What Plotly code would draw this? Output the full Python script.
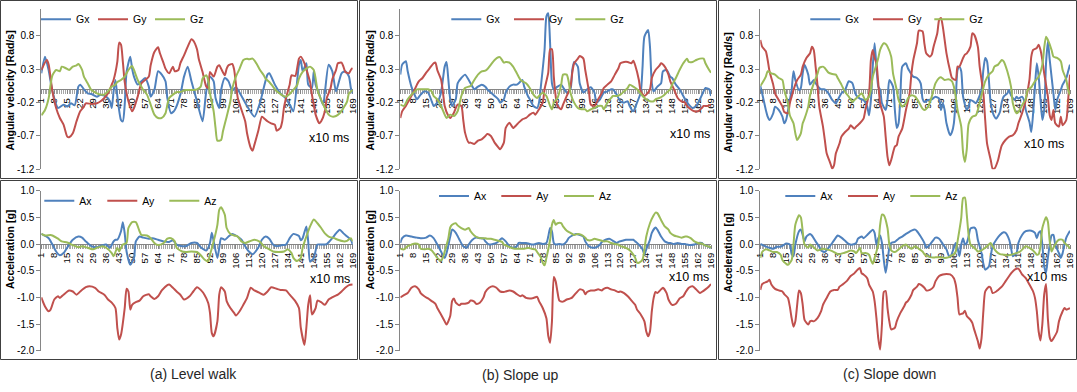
import plotly.graph_objects as go

W, H = 1077, 392
FONT = "Liberation Sans, Arial, sans-serif"
BLUE, RED, GREEN = "#4F81BD", "#C0504D", "#9BBB59"
AXIS_GRAY = "#868686"

# ---------------- tick labels / texts ----------------
CATEGORY_TICKS = list(range(1, 170, 7))
GYRO_TICKS = [-1.2, -0.7, -0.2, 0.3, 0.8]
GYRO_TICK_TEXT = ["-1.2", "-0.7", "-0.2", "0.3", "0.8"]
ACC_TICKS = [-2.0, -1.5, -1.0, -0.5, 0.0, 0.5, 1.0]
ACC_TICK_TEXT = ["-2.0", "-1.5", "-1.0", "-0.5", "0.0", "0.5", "1.0"]
GYRO_NAMES = ["Gx", "Gy", "Gz"]
ACC_NAMES = ["Ax", "Ay", "Az"]
CAPTIONS = ["(a) Level walk", "(b) Slope up", "(c) Slope down"]
GYRO_TITLE = "Angular velocity [Rad/s]"
ACC_TITLE = "Acceleration [g]"
TIME_UNIT = "x10 ms"

# ---------------- data (sample index, value) ----------------
# (a) Level walk - gyroscope
a_gx = [(1,0.24),(3,0.49),(5,0.28),(7,-0.03),(10,-0.28),(13,-0.23),(15,-0.26),(17,-0.21),(19,-0.24),(21,0.04),(22,0.07),(24,0.0),(26,-0.06),(28,-0.07),(31,-0.11),(33,-0.08),(36,-0.11),(38,-0.18),(39,-0.28),(40,-0.03),(41,0.14),(42,-0.1),(44,-0.46),(45,-0.48),(46,-0.23),(47,0.26),(49,0.49),(50,0.31),(51,0.19),(53,0.07),(55,0.12),(57,0.17),(59,0.04),(60,-0.11),(62,-0.01),(64,0.27),(66,0.22),(68,0.12),(69,-0.13),(71,-0.36),(73,-0.31),(76,-0.08),(78,0.19),(80,0.34),(82,0.12),(85,-0.18),(88,-0.48),(90,-0.03),(92,0.19),(94,0.12),(95,-0.13),(97,-0.28),(98,-0.01),(100,0.17),(102,0.12),(104,-0.02),(106,0.03),(109,-0.1),(112,-0.25),(116,-0.41),(119,-0.2),(123,0.22),(124,0.24),(127,0.07),(130,-0.06),(133,-0.14),(135,-0.23),(137,-0.33),(140,0.37),(141,0.44),(142,0.27),(144,0.39),(145,0.07),(147,0.02),(148,0.27),(149,0.07),(151,-0.08),(153,-0.23),(156,0.37),(158,0.27),(160,-0.03),(163,0.24),(165,0.27),(167,0.19),(168,0.02),(169,-0.06)]
a_gy = [(1,0.29),(4,0.44),(5,0.37),(7,-0.03),(9,-0.28),(11,-0.43),(13,-0.53),(15,-0.71),(16,-0.72),(18,-0.66),(20,-0.48),(22,-0.33),(24,-0.26),(25,-0.21),(28,-0.22),(31,-0.21),(33,-0.18),(35,-0.13),(37,-0.06),(39,0.07),(40,0.14),(42,0.41),(43,0.7),(44,0.67),(45,0.41),(46,0.11),(48,-0.18),(50,-0.33),(51,-0.28),(53,-0.11),(55,0.09),(57,0.14),(59,0.19),(60,0.36),(62,0.56),(64,0.63),(65,0.54),(67,0.39),(68,0.31),(70,0.24),(72,0.34),(73,0.27),(75,0.29),(76,0.39),(78,0.51),(80,0.64),(82,0.75),(83,0.73),(85,0.6),(86,0.45),(88,0.26),(89,0.14),(90,0.04),(91,0.02),(92,0.26),(94,0.19),(96,0.34),(97,0.36),(98,0.31),(100,0.21),(101,0.31),(102,0.36),(104,0.38),(105,0.3),(107,-0.13),(111,-0.48),(112,-0.66),(114,-0.88),(115,-0.92),(116,-0.83),(118,-0.63),(120,-0.41),(121,-0.43),(123,-0.48),(125,-0.51),(127,-0.53),(128,-0.62),(130,-0.58),(131,-0.48),(132,-0.26),(134,-0.03),(135,0.07),(136,0.21),(138,0.2),(140,0.46),(141,0.49),(143,0.39),(144,0.3),(146,0.11),(147,-0.08),(148,-0.23),(149,-0.38),(151,-0.51),(152,-0.48),(154,-0.33),(155,-0.13),(157,0.01),(158,0.15),(160,0.29),(161,0.39),(163,0.4),(164,0.34),(165,0.26),(167,0.24),(168,0.29),(169,0.32)]
a_gz = [(1,-0.39),(3,-0.31),(5,-0.13),(6,0.07),(7,0.21),(9,0.29),(11,0.27),(12,0.34),(14,0.32),(16,0.29),(18,0.34),(20,0.36),(21,0.38),(23,0.29),(24,0.19),(26,0.09),(28,-0.01),(31,-0.06),(33,-0.08),(35,-0.08),(37,-0.03),(39,0.04),(41,0.07),(42,0.11),(44,0.14),(46,0.19),(48,0.29),(50,0.35),(51,0.29),(53,0.14),(55,0.04),(56,-0.01),(58,-0.08),(60,-0.23),(62,-0.38),(64,-0.43),(66,-0.43),(68,-0.36),(69,-0.23),(70,-0.13),(72,-0.08),(74,-0.04),(76,-0.04),(78,-0.02),(79,-0.01),(81,-0.01),(83,-0.01),(85,0.0),(87,0.04),(88,0.16),(90,0.21),(91,0.14),(92,-0.06),(94,-0.33),(95,-0.58),(96,-0.77),(98,-0.76),(99,-0.63),(101,-0.41),(103,-0.18),(104,0.01),(106,0.19),(108,0.31),(110,0.44),(112,0.46),(113,0.45),(115,0.46),(117,0.39),(119,0.29),(121,0.21),(122,0.16),(124,0.11),(126,0.04),(128,-0.03),(130,-0.07),(131,-0.09),(133,-0.11),(135,-0.07),(137,-0.01),(139,0.06),(140,0.16),(142,0.26),(144,0.31),(146,0.34),(148,0.29),(149,0.16),(150,-0.01),(152,-0.16),(154,-0.28),(156,-0.38),(158,-0.41),(160,-0.4),(162,-0.36),(164,-0.28),(166,-0.18),(167,-0.06),(169,-0.01)]
# (a) Level walk - accelerometer
a_ax = [(1,0.19),(5,0.11),(7,-0.01),(9,-0.14),(11,-0.21),(13,-0.17),(16,-0.01),(18,0.08),(21,0.14),(23,0.12),(25,0.05),(28,-0.04),(31,-0.06),(34,-0.02),(36,-0.01),(38,-0.07),(40,0.05),(41,0.08),(42,0.08),(44,0.24),(45,0.41),(46,0.2),(47,-0.14),(49,-0.39),(51,-0.26),(52,0.05),(54,0.14),(56,0.12),(59,0.1),(61,0.11),(64,0.08),(67,0.05),(70,0.04),(72,0.07),(74,-0.01),(77,-0.04),(79,-0.04),(82,0.02),(85,0.02),(87,-0.06),(90,-0.12),(92,0.02),(93,0.21),(94,0.05),(96,-0.26),(97,-0.07),(98,0.11),(100,0.08),(102,0.14),(104,0.19),(106,0.16),(109,0.08),(111,-0.04),(113,-0.14),(115,-0.19),(118,-0.07),(120,0.08),(122,0.14),(124,0.1),(126,-0.01),(128,-0.04),(131,-0.02),(133,-0.01),(135,0.11),(137,0.19),(140,0.15),(141,0.07),(142,0.11),(144,0.33),(145,0.05),(146,-0.33),(148,-0.26),(150,-0.01),(152,-0.01),(155,0.0),(158,0.11),(160,0.2),(162,0.27),(164,0.2),(166,0.14),(168,0.08),(169,-0.01)]
a_ay = [(1,-1.0),(3,-1.17),(5,-1.26),(6,-1.23),(8,-1.04),(10,-0.98),(11,-1.01),(13,-0.95),(16,-0.87),(18,-0.89),(20,-0.95),(22,-0.89),(25,-0.81),(27,-0.79),(30,-0.82),(32,-0.89),(35,-0.95),(37,-1.04),(39,-1.1),(41,-1.2),(42,-1.57),(43,-1.79),(44,-1.7),(46,-1.2),(47,-0.84),(48,-0.89),(49,-1.23),(50,-1.14),(52,-1.09),(54,-1.06),(56,-0.98),(59,-0.94),(60,-0.98),(62,-1.03),(64,-0.98),(66,-0.87),(69,-0.77),(70,-0.76),(72,-0.82),(74,-0.89),(76,-0.95),(78,-1.04),(81,-0.98),(83,-0.89),(85,-0.81),(87,-0.86),(89,-0.95),(91,-1.1),(92,-1.29),(93,-1.67),(94,-1.73),(96,-1.45),(97,-0.95),(98,-0.81),(100,-0.89),(101,-1.07),(103,-1.2),(105,-1.29),(106,-1.34),(108,-1.26),(110,-1.14),(112,-1.01),(114,-0.82),(116,-0.87),(119,-0.92),(121,-0.95),(123,-0.89),(125,-0.81),(128,-0.84),(130,-0.86),(133,-0.87),(135,-0.95),(138,-1.07),(140,-1.2),(141,-1.57),(143,-1.89),(144,-1.57),(145,-1.14),(146,-0.96),(147,-1.32),(149,-1.2),(150,-1.06),(152,-1.09),(154,-1.14),(156,-1.04),(159,-0.98),(161,-0.95),(163,-0.89),(165,-0.82),(167,-0.77),(169,-0.76)]
a_az = [(1,0.19),(3,0.16),(6,0.17),(7,0.16),(10,0.1),(12,0.05),(15,0.03),(18,-0.02),(21,-0.06),(23,-0.04),(26,-0.07),(29,-0.1),(31,-0.07),(34,-0.04),(36,-0.07),(39,-0.17),(40,-0.23),(42,-0.07),(43,-0.14),(44,-0.07),(45,-0.01),(47,0.02),(48,0.3),(50,0.41),(52,0.41),(54,0.24),(55,0.17),(58,0.16),(60,0.11),(62,0.02),(64,-0.02),(67,0.02),(69,0.1),(71,0.11),(73,0.05),(74,-0.07),(77,-0.14),(79,-0.15),(82,-0.14),(85,-0.15),(87,-0.21),(89,-0.29),(91,-0.32),(92,-0.2),(94,0.05),(96,0.36),(97,0.64),(98,0.69),(100,0.55),(101,0.3),(103,0.19),(105,0.16),(107,0.14),(109,0.05),(111,0.02),(114,0.06),(116,0.08),(119,0.04),(121,-0.04),(124,-0.1),(126,-0.14),(129,-0.15),(132,-0.14),(134,-0.1),(136,-0.17),(137,-0.26),(139,-0.32),(141,-0.26),(142,-0.07),(144,0.14),(146,0.33),(148,0.46),(150,0.39),(152,0.3),(154,0.2),(156,0.14),(159,0.11),(161,0.08),(164,0.05),(166,0.06),(168,0.11),(169,0.05)]

# (b) Slope up - gyroscope
b_gx = [(1,0.22),(2,0.37),(4,0.42),(5,0.27),(7,0.04),(9,-0.1),(10,-0.15),(12,-0.08),(14,-0.03),(16,-0.05),(18,-0.18),(19,-0.25),(21,-0.2),(23,-0.05),(25,0.34),(26,0.41),(27,0.14),(28,-0.15),(29,-0.25),(31,-0.15),(32,0.09),(34,0.17),(36,0.22),(38,0.14),(40,0.04),(41,0.0),(43,0.04),(45,0.07),(47,0.04),(48,0.0),(50,-0.05),(52,-0.1),(54,-0.15),(55,-0.2),(57,-0.15),(58,-0.05),(60,0.04),(62,0.07),(64,0.07),(65,0.09),(67,0.14),(68,0.04),(70,-0.1),(71,-0.15),(73,-0.25),(75,-0.28),(76,-0.2),(77,0.04),(79,0.59),(80,1.09),(81,1.14),(82,0.69),(83,0.09),(84,0.0),(86,0.04),(88,0.07),(89,0.03),(91,-0.05),(93,0.0),(94,0.29),(95,0.41),(97,0.34),(98,0.09),(100,-0.05),(102,0.0),(104,0.03),(106,-0.05),(107,-0.2),(109,-0.15),(111,-0.05),(113,-0.03),(115,0.0),(116,0.0),(118,-0.08),(120,-0.18),(122,-0.2),(124,-0.18),(125,-0.25),(127,-0.33),(129,-0.2),(131,-0.05),(132,0.34),(133,0.79),(135,0.89),(136,0.64),(137,0.09),(138,-0.03),(140,0.04),(142,0.09),(143,0.27),(145,0.29),(147,0.19),(148,0.17),(150,0.07),(152,0.0),(154,-0.1),(155,-0.15),(157,-0.23),(159,-0.28),(161,-0.25),(163,-0.15),(165,-0.03),(166,0.02),(168,0.0),(169,-0.1)]
b_gy = [(1,-0.43),(2,-0.33),(4,-0.25),(6,-0.15),(8,-0.05),(10,0.07),(11,0.12),(13,0.17),(15,0.25),(17,0.32),(19,0.39),(20,0.4),(21,0.29),(23,0.15),(24,-0.03),(25,-0.25),(27,-0.4),(28,-0.43),(30,-0.35),(32,-0.23),(34,-0.25),(35,-0.45),(36,-0.65),(38,-0.8),(39,-0.8),(41,-0.82),(43,-0.77),(45,-0.75),(47,-0.7),(48,-0.67),(50,-0.7),(52,-0.8),(54,-0.87),(55,-0.9),(57,-0.8),(58,-0.58),(60,-0.5),(62,-0.58),(64,-0.53),(65,-0.5),(67,-0.45),(69,-0.43),(71,-0.38),(73,-0.35),(74,-0.38),(76,-0.3),(78,-0.2),(79,0.0),(81,0.25),(82,0.6),(83,0.6),(84,0.19),(85,-0.1),(86,-0.25),(88,-0.3),(89,-0.23),(91,-0.1),(93,0.04),(94,0.25),(95,0.39),(97,0.46),(98,0.5),(100,0.46),(101,0.29),(103,-0.03),(104,-0.23),(106,-0.25),(108,-0.15),(110,-0.05),(111,0.02),(113,0.07),(115,0.12),(117,0.22),(119,0.32),(120,0.39),(122,0.41),(124,0.41),(126,0.39),(127,0.43),(128,0.36),(130,0.14),(131,-0.03),(133,-0.1),(134,-0.08),(136,0.0),(137,0.17),(139,0.29),(141,0.35),(142,0.39),(144,0.34),(146,0.22),(147,0.12),(149,0.0),(151,-0.13),(153,-0.18),(155,-0.2),(156,-0.25),(158,-0.3),(160,-0.33),(162,-0.33),(164,-0.28),(165,-0.25),(167,-0.25),(169,-0.23)]
b_gz = [(1,-0.23),(3,-0.25),(5,-0.15),(7,-0.08),(9,-0.03),(10,0.0),(13,0.0),(16,0.0),(18,-0.03),(19,-0.1),(21,-0.15),(23,-0.25),(25,-0.38),(26,-0.43),(28,-0.38),(30,-0.4),(32,-0.33),(34,-0.1),(36,0.02),(38,0.04),(39,0.05),(41,0.14),(43,0.22),(45,0.27),(47,0.28),(48,0.3),(50,0.37),(52,0.44),(54,0.48),(55,0.48),(57,0.4),(58,0.41),(60,0.4),(62,0.34),(64,0.24),(66,0.14),(67,0.12),(69,0.09),(71,0.02),(73,-0.08),(75,-0.13),(76,-0.1),(78,-0.05),(80,-0.1),(82,-0.25),(83,-0.3),(84,-0.2),(86,-0.13),(88,0.07),(89,0.22),(91,0.22),(92,0.12),(93,-0.05),(95,-0.2),(97,-0.28),(99,-0.3),(101,-0.3),(102,-0.33),(104,-0.3),(106,-0.28),(108,-0.25),(110,-0.25),(111,-0.3),(113,-0.2),(115,-0.13),(116,-0.1),(118,-0.1),(120,-0.08),(122,-0.03),(124,0.02),(125,0.07),(127,0.04),(129,0.0),(130,-0.03),(132,-0.1),(134,-0.15),(136,-0.18),(138,-0.18),(139,-0.15),(141,-0.13),(143,-0.1),(145,-0.05),(147,0.0),(148,0.07),(150,0.17),(152,0.29),(154,0.39),(156,0.46),(157,0.41),(159,0.41),(161,0.44),(163,0.46),(165,0.46),(166,0.39),(168,0.29),(169,0.25)]
# (b) Slope up - accelerometer
b_ax = [(1,0.02),(2,0.11),(4,0.16),(7,0.14),(10,0.12),(12,0.11),(15,0.12),(17,0.16),(19,0.11),(21,-0.01),(23,-0.14),(25,-0.26),(26,-0.17),(28,0.14),(29,0.27),(31,0.21),(33,0.08),(35,-0.04),(37,-0.07),(38,-0.01),(40,0.08),(42,0.12),(44,0.11),(46,0.1),(47,0.05),(49,-0.01),(51,0.0),(53,0.02),(55,0.08),(56,0.11),(58,0.05),(60,-0.04),(62,-0.07),(64,-0.04),(65,0.02),(67,0.02),(69,0.02),(71,0.0),(73,-0.01),(74,0.0),(76,0.02),(78,0.0),(80,0.02),(81,0.14),(82,0.3),(83,0.24),(84,0.02),(85,-0.01),(87,0.0),(89,-0.01),(91,0.05),(92,0.11),(94,0.16),(96,0.19),(98,0.17),(100,0.14),(101,0.05),(103,-0.04),(105,-0.07),(107,-0.06),(109,-0.01),(110,0.04),(112,0.08),(114,0.1),(116,0.06),(118,0.02),(119,0.04),(121,0.06),(123,0.08),(125,0.08),(127,0.08),(128,0.05),(130,-0.01),(132,-0.1),(133,-0.2),(134,-0.1),(136,0.08),(137,0.21),(139,0.31),(140,0.27),(142,0.14),(144,0.05),(146,0.02),(147,0.02),(149,0.0),(151,0.02),(153,0.0),(155,0.0),(156,-0.01),(158,-0.02),(160,-0.01),(162,0.02),(164,0.02),(165,-0.01),(167,-0.04),(169,-0.07)]
b_ay = [(1,-1.0),(3,-0.96),(5,-0.92),(7,-0.82),(9,-0.79),(11,-0.85),(12,-0.92),(14,-0.98),(16,-1.02),(18,-1.07),(20,-1.12),(21,-1.2),(23,-1.32),(25,-1.45),(26,-1.51),(28,-1.35),(29,-1.07),(30,-1.02),(31,-1.1),(33,-1.15),(34,-1.12),(36,-1.12),(38,-1.1),(39,-1.06),(41,-1.08),(42,-1.12),(44,-1.1),(46,-1.0),(47,-0.9),(49,-0.82),(51,-0.79),(53,-0.82),(55,-0.89),(57,-0.9),(58,-0.89),(60,-0.87),(62,-0.89),(64,-0.94),(66,-0.98),(67,-0.96),(69,-1.01),(71,-1.02),(73,-1.01),(75,-0.99),(76,-1.07),(78,-1.2),(80,-1.39),(81,-1.72),(82,-1.85),(83,-1.45),(84,-0.62),(85,-0.7),(86,-0.9),(87,-1.06),(89,-1.08),(91,-1.04),(93,-1.02),(94,-1.0),(96,-0.92),(98,-0.85),(100,-0.87),(101,-0.94),(102,-0.9),(104,-0.87),(106,-0.87),(108,-0.85),(110,-0.87),(111,-0.84),(113,-0.82),(115,-0.85),(117,-0.87),(119,-0.9),(120,-0.89),(122,-0.92),(124,-0.98),(126,-1.06),(128,-1.14),(129,-1.23),(131,-1.32),(133,-1.45),(134,-1.64),(135,-1.73),(136,-1.64),(137,-1.26),(138,-1.01),(139,-0.9),(140,-0.92),(142,-0.85),(143,-0.82),(145,-0.92),(146,-1.04),(148,-1.14),(150,-1.12),(152,-1.02),(154,-0.98),(155,-0.92),(157,-0.82),(159,-0.79),(161,-0.85),(163,-0.92),(164,-0.9),(166,-0.85),(168,-0.79),(169,-0.75)]
b_az = [(1,-0.09),(3,-0.1),(5,-0.04),(7,-0.01),(9,0.01),(11,-0.01),(12,-0.09),(14,-0.1),(16,-0.09),(18,-0.12),(20,-0.21),(21,-0.26),(23,-0.31),(24,-0.26),(25,-0.14),(27,0.11),(28,0.31),(29,0.36),(31,0.39),(32,0.35),(34,0.3),(36,0.27),(38,0.3),(39,0.24),(41,0.16),(43,0.12),(45,0.11),(47,0.11),(48,0.1),(50,0.1),(52,0.08),(54,0.06),(56,0.04),(57,-0.01),(59,-0.04),(61,-0.07),(63,-0.09),(65,-0.09),(66,-0.09),(68,-0.09),(70,-0.07),(72,-0.09),(74,-0.1),(75,-0.15),(77,-0.25),(78,-0.35),(79,-0.4),(80,-0.26),(82,0.08),(83,0.36),(84,0.45),(85,0.36),(86,0.39),(88,0.39),(89,0.33),(91,0.25),(93,0.21),(95,0.17),(97,0.19),(99,0.17),(101,0.12),(102,0.08),(104,0.07),(106,0.1),(108,0.08),(110,0.06),(111,0.05),(113,0.05),(115,0.02),(117,0.0),(119,-0.01),(120,-0.04),(122,-0.06),(124,-0.09),(126,-0.15),(128,-0.26),(129,-0.35),(130,-0.35),(132,-0.29),(133,-0.1),(134,0.14),(136,0.39),(138,0.54),(139,0.59),(140,0.58),(142,0.45),(144,0.33),(146,0.27),(147,0.21),(149,0.16),(151,0.14),(153,0.12),(155,0.14),(156,0.14),(158,0.11),(160,0.05),(162,0.02),(164,0.01),(165,-0.01),(167,-0.04),(169,-0.06)]

# (c) Slope down - gyroscope
c_gx = [(1,0.05),(2,-0.06),(4,-0.31),(5,-0.41),(6,-0.46),(8,-0.36),(9,-0.26),(11,-0.31),(13,-0.41),(14,-0.51),(15,-0.46),(17,-0.16),(18,-0.01),(19,0.27),(20,0.14),(22,-0.01),(23,0.02),(24,0.24),(25,0.37),(27,0.22),(28,0.07),(30,0.14),(31,0.09),(33,0.02),(34,0.0),(36,0.0),(38,-0.06),(40,-0.16),(42,-0.21),(43,-0.16),(45,-0.06),(47,-0.01),(49,0.12),(51,0.09),(52,-0.01),(53,-0.09),(55,-0.14),(57,-0.16),(59,-0.26),(60,-0.39),(61,-0.16),(62,0.34),(63,0.69),(64,0.34),(65,0.04),(66,-0.01),(67,-0.21),(69,-0.31),(70,-0.16),(71,0.14),(73,0.04),(74,-0.31),(75,-0.58),(76,-0.51),(77,-0.11),(78,0.34),(80,0.39),(81,0.32),(82,0.27),(84,0.19),(86,0.17),(88,0.09),(89,-0.14),(90,-0.19),(92,-0.16),(94,-0.15),(96,-0.11),(98,-0.14),(99,-0.31),(100,-0.21),(101,-0.31),(102,-0.51),(104,-0.69),(105,-0.64),(106,-0.51),(107,-0.16),(108,0.29),(109,0.34),(110,0.27),(111,-0.11),(113,-0.31),(114,-0.26),(115,-0.16),(117,-0.19),(118,-0.21),(119,-0.16),(121,-0.01),(122,0.29),(123,0.47),(124,0.42),(125,0.14),(126,-0.21),(128,-0.41),(129,-0.44),(131,-0.34),(132,-0.19),(133,-0.11),(135,-0.06),(136,-0.01),(137,-0.09),(139,-0.16),(140,-0.11),(141,-0.14),(143,-0.11),(144,-0.16),(145,-0.31),(147,-0.49),(148,-0.64),(149,-0.36),(150,0.04),(151,0.39),(152,0.19),(153,-0.16),(154,-0.46),(155,-0.31),(156,0.39),(157,0.72),(158,0.44),(160,-0.06),(161,-0.31),(162,-0.16),(164,-0.01),(165,0.07),(167,0.17),(168,0.27),(169,0.37)]
c_gy = [(1,0.74),(2,0.64),(4,0.57),(5,0.44),(6,0.27),(8,0.07),(9,-0.06),(11,-0.16),(13,-0.26),(14,-0.34),(16,-0.36),(17,-0.21),(18,-0.11),(19,-0.01),(21,0.14),(23,0.22),(24,0.34),(26,0.47),(28,0.54),(29,0.64),(30,0.59),(31,0.34),(32,0.07),(33,-0.26),(35,-0.56),(36,-0.76),(37,-0.96),(39,-1.11),(40,-1.19),(41,-1.14),(42,-0.96),(44,-0.81),(45,-0.71),(47,-0.64),(49,-0.59),(50,-0.54),(52,-0.59),(53,-0.56),(55,-0.51),(57,-0.44),(58,-0.31),(60,-0.06),(61,0.44),(62,0.59),(63,0.47),(64,0.39),(65,0.09),(66,-0.21),(68,-0.41),(69,-0.71),(70,-1.01),(71,-1.14),(72,-1.06),(74,-0.86),(75,-0.84),(76,-0.71),(78,-0.59),(79,-0.46),(80,-0.31),(82,-0.06),(83,0.24),(84,0.44),(86,0.69),(87,0.88),(89,0.87),(90,0.69),(91,0.54),(93,0.49),(94,0.52),(95,0.64),(97,0.84),(98,1.04),(99,1.07),(100,0.94),(101,0.74),(102,0.54),(104,0.27),(105,0.17),(107,0.14),(108,0.34),(109,0.34),(111,0.47),(112,0.52),(113,0.54),(115,0.64),(116,0.84),(117,0.82),(119,0.64),(120,0.34),(122,-0.06),(123,-0.46),(124,-0.81),(126,-1.06),(127,-1.19),(128,-1.19),(130,-1.06),(131,-0.94),(132,-0.84),(134,-0.76),(136,-0.71),(138,-0.69),(140,-0.61),(141,-0.51),(143,-0.36),(145,-0.16),(147,0.14),(148,0.49),(149,0.59),(151,0.62),(152,0.67),(153,0.59),(154,0.44),(155,0.24),(157,-0.11),(158,-0.39),(159,-0.46),(160,-0.31),(161,-0.51),(163,-0.56),(164,-0.41),(165,-0.54),(167,-0.46),(168,-0.16),(169,0.22)]
c_gz = [(1,0.05),(2,0.09),(4,0.19),(5,0.27),(7,0.24),(9,0.22),(11,0.17),(13,0.14),(14,-0.01),(16,-0.21),(17,-0.39),(19,-0.51),(20,-0.66),(21,-0.76),(23,-0.66),(24,-0.51),(25,-0.44),(27,-0.26),(28,-0.09),(30,0.09),(32,0.23),(33,0.32),(35,0.34),(36,0.32),(38,0.25),(40,0.23),(42,0.22),(43,0.17),(45,0.07),(47,-0.04),(49,-0.11),(51,-0.19),(52,-0.16),(54,-0.11),(56,-0.06),(57,-0.11),(58,-0.16),(60,-0.11),(61,-0.01),(62,0.19),(64,0.37),(65,0.47),(66,0.59),(68,0.69),(69,0.68),(70,0.64),(72,0.49),(73,0.24),(75,-0.01),(76,-0.16),(78,-0.26),(80,-0.21),(81,-0.14),(83,-0.09),(85,-0.11),(87,-0.19),(89,-0.29),(90,-0.31),(92,-0.26),(94,-0.11),(96,0.09),(98,0.17),(99,0.18),(101,0.14),(103,0.15),(105,0.12),(106,0.04),(107,-0.11),(108,-0.31),(110,-0.56),(111,-0.95),(112,-1.09),(113,-0.9),(114,-0.52),(116,-0.41),(118,-0.39),(119,-0.31),(121,-0.09),(123,0.12),(125,0.22),(127,0.27),(128,0.34),(130,0.37),(132,0.44),(133,0.42),(135,0.27),(137,0.04),(138,-0.21),(140,-0.36),(141,-0.34),(143,-0.24),(145,-0.14),(146,-0.01),(148,0.03),(150,0.12),(152,0.19),(154,0.37),(155,0.62),(156,0.79),(157,0.74),(159,0.59),(160,0.49),(162,0.47),(164,0.42),(165,0.29),(167,0.14),(168,-0.01),(169,-0.09)]
# (c) Slope down - accelerometer
c_ax = [(1,0.0),(3,-0.03),(5,-0.06),(6,-0.07),(8,-0.09),(10,-0.05),(12,-0.05),(14,-0.01),(15,0.01),(17,-0.01),(18,-0.19),(19,-0.23),(20,-0.01),(22,0.24),(23,0.27),(24,0.17),(25,0.05),(26,0.14),(28,0.19),(29,0.16),(31,0.05),(33,-0.05),(34,-0.12),(36,-0.15),(38,-0.07),(40,0.02),(42,0.12),(43,0.16),(45,0.12),(47,0.06),(49,0.0),(51,-0.01),(53,0.02),(54,0.1),(56,0.14),(57,0.11),(59,0.17),(61,0.24),(62,0.27),(63,0.21),(64,-0.01),(65,0.11),(66,0.16),(67,0.02),(68,-0.3),(69,-0.54),(70,-0.32),(71,-0.07),(72,0.02),(74,0.04),(76,0.1),(78,0.14),(80,0.19),(81,0.21),(83,0.25),(85,0.27),(86,0.24),(88,0.14),(90,0.02),(91,-0.07),(93,-0.01),(95,0.08),(96,0.12),(98,0.1),(100,0.0),(102,-0.1),(103,-0.2),(104,-0.25),(106,-0.07),(107,0.02),(108,-0.07),(109,-0.23),(110,-0.01),(111,0.11),(112,-0.01),(113,0.02),(114,0.14),(115,0.29),(117,0.31),(118,0.27),(119,0.08),(121,-0.17),(122,-0.37),(123,-0.48),(125,-0.42),(126,-0.23),(127,-0.04),(129,0.08),(131,0.17),(133,0.22),(134,0.21),(136,0.08),(137,-0.07),(138,-0.23),(140,-0.17),(141,0.02),(143,0.17),(145,0.24),(146,0.25),(148,0.25),(150,0.21),(151,0.11),(152,0.21),(153,0.24),(154,-0.01),(155,-0.42),(156,-0.54),(157,-0.26),(158,-0.01),(159,0.16),(160,0.17),(161,-0.01),(163,-0.17),(164,-0.26),(165,-0.17),(166,-0.01),(167,0.12),(169,0.25)]
c_ay = [(1,-0.86),(2,-0.75),(3,-0.73),(5,-0.7),(6,-0.67),(7,-0.76),(9,-0.84),(11,-0.87),(13,-0.89),(14,-0.94),(16,-1.01),(17,-1.17),(18,-1.39),(19,-1.55),(20,-1.45),(21,-1.14),(22,-0.87),(23,-0.92),(24,-1.14),(25,-1.42),(27,-1.51),(28,-1.45),(29,-1.44),(30,-1.45),(32,-1.39),(34,-1.26),(35,-1.14),(37,-1.01),(39,-0.89),(41,-0.86),(43,-0.86),(44,-0.8),(46,-0.75),(48,-0.69),(50,-0.6),(52,-0.55),(53,-0.51),(55,-0.45),(56,-0.55),(57,-0.57),(59,-0.64),(60,-0.76),(62,-0.89),(63,-1.07),(64,-1.39),(65,-1.77),(66,-1.98),(67,-1.5),(68,-0.9),(69,-0.88),(70,-1.2),(71,-1.45),(72,-1.6),(74,-1.57),(75,-1.45),(77,-1.29),(79,-1.17),(80,-1.1),(81,-1.07),(83,-0.95),(84,-0.86),(86,-0.8),(87,-0.75),(88,-0.76),(90,-0.82),(91,-0.87),(93,-0.86),(95,-0.8),(96,-0.7),(98,-0.6),(100,-0.57),(102,-0.56),(104,-0.57),(106,-0.64),(107,-0.76),(108,-1.01),(109,-1.32),(110,-1.31),(111,-1.3),(112,-1.25),(113,-1.35),(115,-1.42),(116,-1.48),(117,-1.6),(119,-1.82),(120,-1.96),(121,-1.77),(122,-1.26),(123,-0.89),(125,-0.8),(126,-0.82),(127,-0.92),(129,-0.89),(130,-0.86),(132,-0.8),(134,-0.7),(136,-0.6),(137,-0.55),(139,-0.48),(141,-0.46),(142,-0.51),(143,-0.57),(145,-0.64),(147,-0.76),(149,-0.89),(150,-1.01),(151,-1.26),(152,-1.64),(153,-1.81),(154,-1.5),(155,-0.95),(156,-0.75),(157,-1.4),(158,-1.75),(159,-1.82),(160,-1.77),(162,-1.64),(163,-1.45),(165,-1.26),(166,-1.2),(167,-1.23),(169,-1.2)]
c_az = [(1,-0.26),(2,-0.15),(4,-0.1),(6,-0.12),(8,-0.15),(10,-0.15),(12,-0.2),(13,-0.3),(15,-0.37),(16,-0.39),(18,-0.3),(19,-0.01),(20,0.36),(22,0.54),(23,0.5),(24,0.24),(25,-0.01),(27,-0.07),(28,-0.01),(30,-0.06),(32,-0.12),(34,-0.1),(35,-0.09),(37,-0.1),(39,-0.12),(41,-0.15),(43,-0.19),(44,-0.19),(46,-0.17),(48,-0.15),(50,-0.12),(52,-0.14),(53,-0.17),(55,-0.07),(56,-0.17),(58,-0.17),(60,-0.2),(61,-0.3),(62,-0.37),(63,-0.26),(65,-0.01),(66,0.36),(67,0.55),(68,0.54),(70,0.3),(71,-0.01),(72,-0.12),(74,-0.15),(76,-0.1),(78,-0.04),(80,-0.01),(81,-0.04),(83,-0.09),(85,-0.04),(87,-0.09),(89,-0.14),(90,-0.19),(92,-0.23),(94,-0.25),(96,-0.25),(98,-0.25),(99,-0.25),(101,-0.26),(103,-0.25),(105,-0.21),(106,-0.19),(107,-0.14),(108,0.05),(110,0.49),(111,0.86),(112,0.87),(113,0.55),(114,0.17),(115,-0.01),(117,-0.07),(118,-0.1),(119,-0.14),(121,-0.12),(123,-0.07),(125,-0.01),(126,0.02),(127,-0.04),(129,-0.14),(131,-0.19),(133,-0.2),(135,-0.21),(137,-0.2),(138,-0.19),(140,-0.17),(142,-0.14),(144,-0.07),(145,-0.04),(147,-0.07),(149,-0.12),(151,-0.2),(152,-0.19),(153,-0.04),(154,0.3),(156,0.5),(157,0.42),(158,0.05),(159,-0.14),(160,-0.07),(162,0.05),(163,0.08),(165,0.08),(166,0.02),(168,-0.04),(169,-0.09)]

# ---------------- layout (pixels) ----------------
COL_PLOT_X = [(41.3, 352.7), (400.3, 711.0), (760.3, 1070.0)]
ROW_PLOT_Y = [(9.3, 169.3), (190.7, 350.7)]          # top, bottom (px from top)
ROW_RANGE = [(-1.2, 1.2), (-2.0, 1.0)]
FRAMES_X = [(0.5, 357.5), (359.5, 716.5), (718.5, 1076.5)]
FRAMES_Y = [(0.5, 178.5), (180.5, 359.5)]
LEGEND_TEXT_X = [[(76, 133, 190), (79.3, 142.3, 204.3)],
                 [(486.3, 549, 610.3), (474, 536.3, 599)],
                 [(845.3, 908, 969.3), (820.3, 883, 945.3)]]
LEGEND_Y = [[19.3, 200.7], [19.3, 196], [19.3, 196]]
LEGEND_DX = 40     # plotly legend: text starts 40 px right of the legend's left edge
TITLE_POS = [[(9.5, 91), (10, 250)], [(369.5, 91), (369.5, 250)], [(727.5, 93), (727.5, 253)]]
UNIT_POS = [[(351, 138), (352, 279)], [(712, 134), (711, 277)], [(1066, 144), (1069, 277)]]
CAPTION_POS = [(193, 374), (519.7, 374.5), (889.7, 374)]

panels = [
    [(a_gx, a_gy, a_gz), (a_ax, a_ay, a_az)],
    [(b_gx, b_gy, b_gz), (b_ax, b_ay, b_az)],
    [(c_gx, c_gy, c_gz), (c_ax, c_ay, c_az)],
]
COLORS = [BLUE, RED, GREEN]

def px_x(v):
    return v / W

def px_y(v):
    return 1 - v / H

fig = go.Figure()
layout = dict(
    width=W, height=H, margin=dict(l=0, r=0, t=0, b=0, pad=0, autoexpand=False),
    paper_bgcolor="white", plot_bgcolor="rgba(0,0,0,0)",
    font=dict(family=FONT, color="#000000"), showlegend=True,
    shapes=[], annotations=[],
)

n = 0
legend_n = 0
for col in range(3):
    for row in range(2):
        n += 1
        xa = "x" if n == 1 else f"x{n}"
        ya = "y" if n == 1 else f"y{n}"
        xkey = "xaxis" if n == 1 else f"xaxis{n}"
        ykey = "yaxis" if n == 1 else f"yaxis{n}"
        ymin, ymax = ROW_RANGE[row]
        y0px, y1px = ROW_PLOT_Y[row]
        dom_y = [px_y(y1px), px_y(y0px)]
        zero_pos = dom_y[0] + (0 - ymin) / (ymax - ymin) * (dom_y[1] - dom_y[0])
        layout[xkey] = dict(
            domain=[px_x(COL_PLOT_X[col][0]), px_x(COL_PLOT_X[col][1])],
            range=[1, 169], anchor="free", position=zero_pos,
            showline=True, linecolor=AXIS_GRAY, linewidth=1,
            tickmode="array", tickvals=CATEGORY_TICKS,
            ticktext=[str(t) for t in CATEGORY_TICKS],
            ticks="outside", ticklen=4, tickcolor=AXIS_GRAY, tickwidth=1,
            tickangle=-90, tickfont=dict(size=9.5, family=FONT, color="#000"),
            minor=dict(dtick=1, tick0=1, ticks="outside", ticklen=4,
                       tickcolor="#A6A6A6", tickwidth=1, showgrid=False),
            showgrid=False, zeroline=False, layer="below traces", fixedrange=True,
            automargin=False,
        )
        tv = GYRO_TICKS if row == 0 else ACC_TICKS
        tt = GYRO_TICK_TEXT if row == 0 else ACC_TICK_TEXT
        layout[ykey] = dict(
            domain=dom_y, range=[ymin, ymax], anchor=xa,
            showline=True, linecolor=AXIS_GRAY, linewidth=1,
            tickmode="array", tickvals=tv, ticktext=tt,
            ticks="outside", ticklen=4, tickcolor=AXIS_GRAY,
            tickfont=dict(size=10, family=FONT, color="#000"),
            showgrid=False, zeroline=False, layer="below traces", fixedrange=True,
            automargin=False,
        )
        names = GYRO_NAMES if row == 0 else ACC_NAMES
        for k, series in enumerate(panels[col][row]):
            legend_n += 1
            lkey = "legend" if legend_n == 1 else f"legend{legend_n}"
            xs = [p[0] for p in series]
            ys = [p[1] for p in series]
            fig.add_trace(go.Scatter(
                x=xs, y=ys, mode="lines", name=names[k], showlegend=True,
                line=dict(color=COLORS[k], width=2, shape="spline", smoothing=0.6),
                xaxis=xa, yaxis=ya, legend=lkey, hoverinfo="skip",
            ))
            layout[lkey] = dict(
                x=px_x(LEGEND_TEXT_X[col][row][k] - LEGEND_DX),
                y=px_y(LEGEND_Y[col][row]),
                xanchor="left", yanchor="middle", orientation="h",
                bgcolor="rgba(0,0,0,0)", borderwidth=0,
                font=dict(size=10.5, family=FONT, color="#000"),
                itemwidth=30, itemclick=False, itemdoubleclick=False,
            )
        # frame
        layout["shapes"].append(dict(
            type="rect", xref="paper", yref="paper",
            x0=px_x(FRAMES_X[col][0]), x1=px_x(FRAMES_X[col][1]),
            y0=px_y(FRAMES_Y[row][1]), y1=px_y(FRAMES_Y[row][0]),
            line=dict(color="#404040", width=1), fillcolor="rgba(0,0,0,0)", layer="below",
        ))
        tx, ty = TITLE_POS[col][row]
        layout["annotations"].append(dict(
            text="<b>" + (GYRO_TITLE if row == 0 else ACC_TITLE) + "</b>",
            xref="paper", yref="paper", x=px_x(tx), y=px_y(ty),
            xanchor="center", yanchor="middle", textangle=-90, showarrow=False,
            font=dict(size=10.5, family=FONT, color="#000"),
        ))
        ux, uy = UNIT_POS[col][row]
        layout["annotations"].append(dict(
            text=TIME_UNIT, xref="paper", yref="paper", x=px_x(ux), y=px_y(uy),
            xanchor="right", yanchor="middle", showarrow=False,
            font=dict(size=12.5, family=FONT, color="#000"),
        ))
    cx, cy = CAPTION_POS[col]
    layout["annotations"].append(dict(
        text=CAPTIONS[col], xref="paper", yref="paper", x=px_x(cx), y=px_y(cy),
        xanchor="center", yanchor="middle", showarrow=False,
        font=dict(size=14, family=FONT, color="#262626"),
    ))

fig.update_layout(**layout)
fig.write_html(
    "out.html",
    config={"displayModeBar": False},
    post_script="document.body.style.margin='0';document.body.style.overflow='hidden';",
)
